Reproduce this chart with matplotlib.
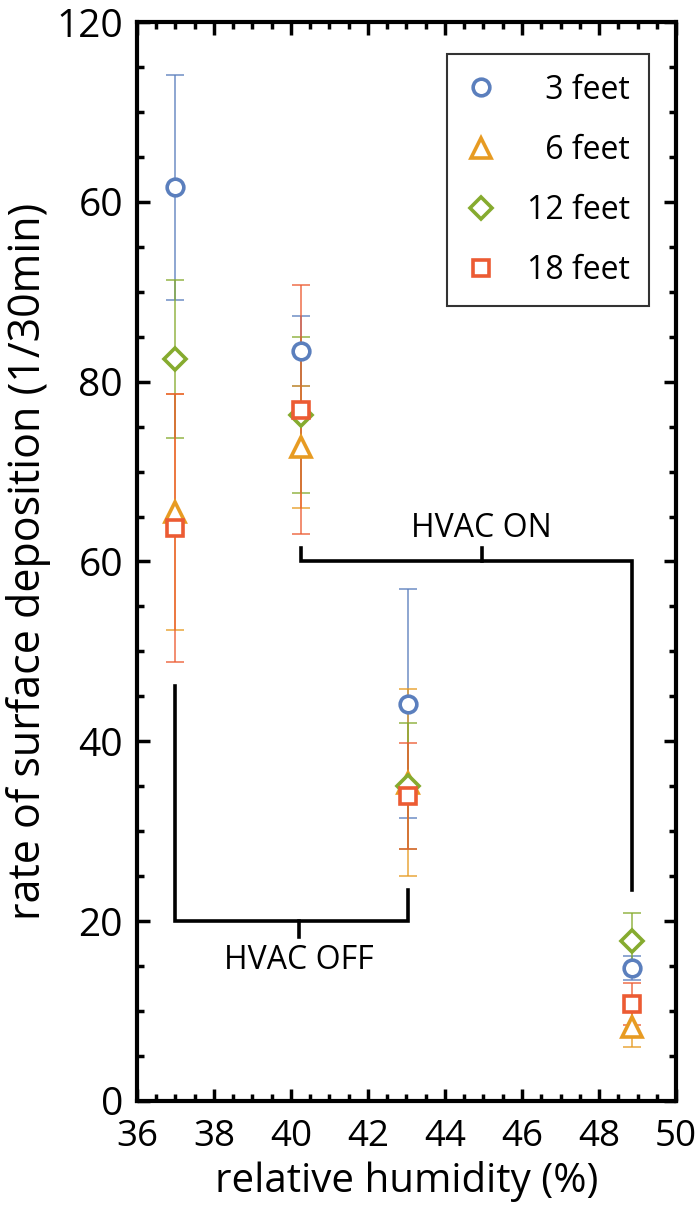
import matplotlib
matplotlib.use('Agg')
from matplotlib import pyplot as plt
from matplotlib.ticker import MultipleLocator

plt.rcParams['font.family'] = ['Open Sans', 'DejaVu Sans']

# datos
humidity = [37.0, 40.25, 43.05, 48.85]
labels = ['\u20073 feet', '\u20076 feet', '12 feet', '18 feet']
dep_3ft = [101.6, 83.4, 44.2, 14.8]
err_3ft = [12.5, 3.9, 12.7, 1.3]
dep_6ft = [65.5, 72.7, 35.4, 8.2]
err_6ft = [13.1, 6.8, 10.4, 2.2]
dep_12ft = [82.5, 76.3, 35.0, 17.8]
err_12ft = [8.8, 8.7, 7.0, 3.1]
dep_18ft = [63.7, 76.9, 33.9, 10.8]
err_18ft = [14.9, 13.8, 5.9, 2.3]

ytick_vals = [0, 20, 40, 60, 80, 100, 120]
ytick_labels = ['0', '20', '40', '60', '80', '60', '120']

colors = ['#5b7fbd', '#e79b22', '#86ab2f', '#ec5b33']
markers = ['o', '^', 'D', 's']
msizes = [12, 14, 11, 11.5]

fig = plt.figure(figsize=(6.95, 12.16), dpi=100)
ax = fig.add_axes([0.197, 0.0946, 0.7757, 0.8873])

series = [(dep_3ft, err_3ft), (dep_6ft, err_6ft), (dep_12ft, err_12ft), (dep_18ft, err_18ft)]
for i, (y, e) in enumerate(series):
    ax.errorbar(humidity, y, yerr=e, fmt='none', ecolor=colors[i], elinewidth=1.3,
                capsize=6.5, capthick=1.3, alpha=0.75, zorder=2 + i)
    ax.plot(humidity, y, linestyle='none', marker=markers[i], markersize=msizes[i],
            markerfacecolor='white', markeredgecolor=colors[i], markeredgewidth=2.6,
            label=labels[i], zorder=6 + i)

# corchetes HVAC OFF / HVAC ON
off_x = [37.0, 37.0, 43.05, 43.05]
off_y = [46.2, 20.0, 20.0, 23.5]
ax.plot(off_x, off_y, color='black', lw=2.6, solid_joinstyle='miter', zorder=1)
ax.plot([40.2, 40.2], [20.0, 18.2], color='black', lw=2.6, zorder=1)
ax.text(40.2, 15.6, 'HVAC OFF', ha='center', va='center', fontsize=23)

on_x = [40.25, 40.25, 48.85, 48.85]
on_y = [61.5, 60.0, 60.0, 23.5]
ax.plot(on_x, on_y, color='black', lw=2.6, solid_joinstyle='miter', zorder=1)
ax.plot([44.95, 44.95], [60.0, 61.5], color='black', lw=2.6, zorder=1)
ax.text(44.95, 63.7, 'HVAC ON', ha='center', va='center', fontsize=23)

ax.set_xlim(36, 50)
ax.set_ylim(0, 120)
ax.set_xticks([36, 38, 40, 42, 44, 46, 48, 50])
ax.set_yticks(ytick_vals)
ax.set_yticklabels(ytick_labels)
ax.xaxis.set_minor_locator(MultipleLocator(0.5))
ax.yaxis.set_minor_locator(MultipleLocator(5))
ax.tick_params(which='both', direction='in', top=True, right=True, width=2.5, labelsize=28)
ax.tick_params(which='major', length=9)
ax.tick_params(which='minor', length=5)
ax.tick_params(axis='x', pad=13, labelsize=26.5)
ax.tick_params(axis='y', pad=10)
for s in ax.spines.values():
    s.set_linewidth(3)

ax.set_xlabel('relative humidity (%)', fontsize=29, labelpad=4)
ax.set_ylabel('rate of surface deposition (1/30min)', fontsize=31, labelpad=4)

leg = ax.legend(loc='upper right', bbox_to_anchor=(0.950, 0.970), fontsize=23,
                frameon=True, fancybox=False, edgecolor='black', handlelength=0.9,
                handletextpad=1.0, labelspacing=0.85, borderpad=0.6, borderaxespad=0)
leg.get_frame().set_linewidth(1.5)

plt.savefig('out.png', dpi=100)
